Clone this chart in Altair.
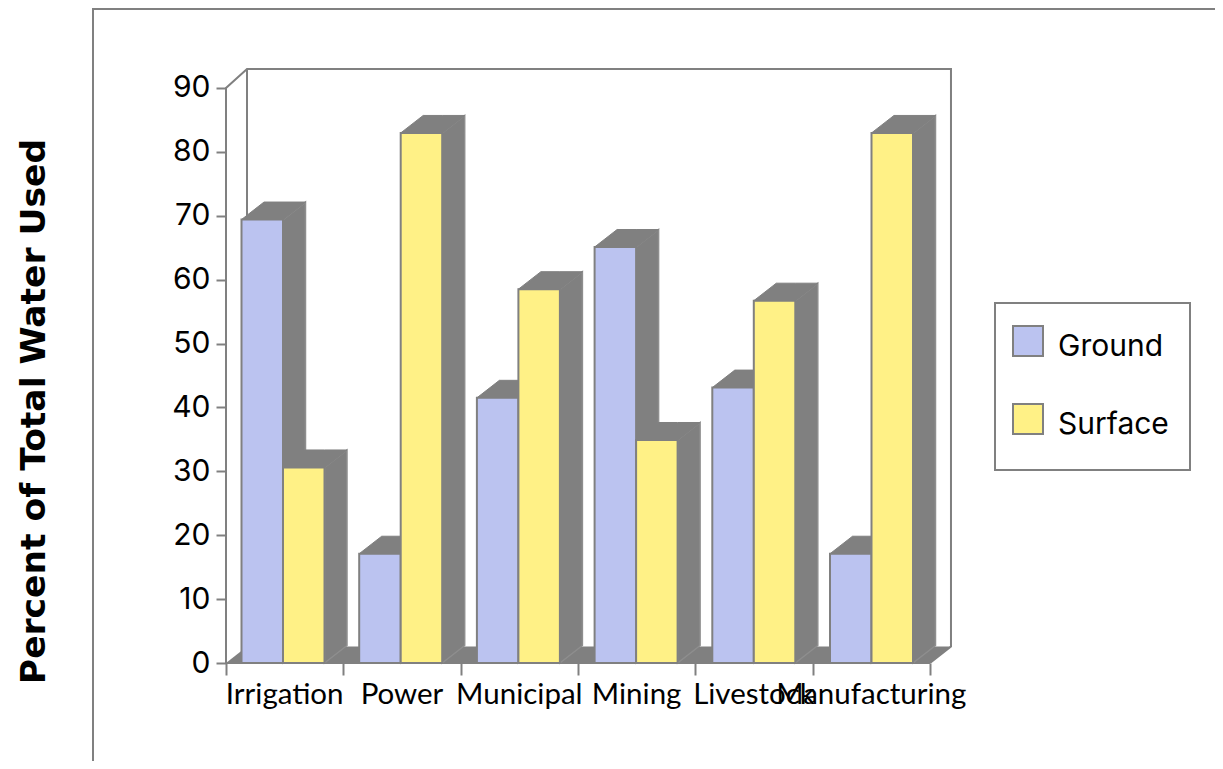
import altair as alt
import pandas as pd

categories = ["Irrigation", "Power", "Municipal", "Mining", "Livestock", "Manufacturing"]
ground = [69.4, 17.1, 41.5, 65.1, 43.1, 17.1]
surface = [30.6, 82.95, 58.5, 34.9, 56.7, 82.95]
y_ticks = [0, 10, 20, 30, 40, 50, 60, 70, 80, 90]
x_ticks = [0, 1, 2, 3, 4, 5, 6]
series_names = ["Ground", "Surface"]
series_colors = ["#BBC3F0", "#FFF186"]
axis_title = "Percent of Total Water Used"

GRAY = "#808080"
W, H = 1207, 753
PX_X, PX_Y = 117.33, 6.39      # pixels per unit
X0, Y0 = 226, 663              # page pixel of the data origin
DX, DY = 21 / PX_X, 16.5 / PX_Y
WALL_TOP = 19 / PX_Y
BAR_DX, BAR_DY = 22.5 / PX_X, 17.5 / PX_Y
BAR_START, BAR_W, BAR_STEP = 15.5 / PX_X, 41.5 / PX_X, 117.7 / PX_X

xs = alt.Scale(domain=[(8 - X0) / PX_X, (8 + W - X0) / PX_X], nice=False, zero=False)
ys = alt.Scale(domain=[(Y0 - 8 - H) / PX_Y, (Y0 - 8) / PX_Y], nice=False, zero=False)
x_axis = alt.Axis(values=x_ticks, labels=False, title=None, domain=False, grid=False,
                  tickColor=GRAY, tickWidth=2, tickSize=12, offset=-(H + 8 - Y0))
y_axis = alt.Axis(values=y_ticks, title=axis_title, domain=False, grid=False,
                  tickColor=GRAY, tickWidth=2, tickSize=10, offset=-(X0 - 8),
                  labelFont="Inter", labelFontSize=30, labelColor="black", labelPadding=6,
                  titleFont="DejaVu Sans", titleFontWeight="bold", titleFontSize=34.5,
                  titleColor="black", titleAngle=270, titleAlign="center",
                  titleBaseline="alphabetic", titleX=44 - X0, titleY=411 - 8)
X = alt.X("x:Q", scale=xs, axis=x_axis)
Y = alt.Y("y:Q", scale=ys, axis=y_axis)

bars, sides, tops = [], [], []
for i, c in enumerate(categories):
    for j, (name, v) in enumerate(zip(series_names, (ground[i], surface[i]))):
        a = i * BAR_STEP + BAR_START + j * BAR_W
        b = a + BAR_W
        bars.append(dict(x=a, x2=b, y=v, y2=0, Series=name))
        k = f"{i}-{j}"
        sides += [dict(id=k, x=b, y=0, y2=v), dict(id=k, x=b + BAR_DX, y=BAR_DY, y2=v + BAR_DY)]
        tops += [dict(id=k, x=a, y=v, y2=v), dict(id=k, x=a + BAR_DX, y=v, y2=v + BAR_DY),
                 dict(id=k, x=b, y=v, y2=v + BAR_DY), dict(id=k, x=b + BAR_DX, y=v + BAR_DY, y2=v + BAR_DY)]

floor = pd.DataFrame([dict(x=0, y=0, y2=0), dict(x=DX, y=0, y2=DY),
                      dict(x=6, y=0, y2=DY), dict(x=6 + DX, y=DY, y2=DY)])
wall_pts = [("l", 0, 0), ("l", 0, 90), ("l", DX, 90 + WALL_TOP), ("l", 6 + DX, 90 + WALL_TOP),
            ("l", 6 + DX, DY), ("l", 6, 0),
            ("b", DX, DY), ("b", DX, 90 + WALL_TOP), ("f", 0, 0), ("f", 6, 0)]
walls = pd.DataFrame([dict(id=a, x=b, y=c, o=n) for n, (a, b, c) in enumerate(wall_pts)])
frame = pd.DataFrame([dict(x=(93 - X0) / PX_X, y=(Y0 - 769) / PX_Y, o=0),
                      dict(x=(93 - X0) / PX_X, y=(Y0 - 9) / PX_Y, o=1),
                      dict(x=(1223 - X0) / PX_X, y=(Y0 - 9) / PX_Y, o=2)])
legend_box = pd.DataFrame([dict(x=(995 - X0) / PX_X, x2=(1190 - X0) / PX_X,
                                y=(Y0 - 303) / PX_Y, y2=(Y0 - 470) / PX_Y)])
cat_labels = pd.DataFrame([dict(x=i + 0.5, y=(Y0 - 704) / PX_Y, label=c) for i, c in enumerate(categories)])

line_base = alt.Chart(walls).mark_line(color=GRAY, strokeWidth=2, strokeJoin="miter").encode(
    x=X, y=Y, detail="id:N", order="o:Q")
frame_l = alt.Chart(frame).mark_line(color=GRAY, strokeWidth=2).encode(x=X, y=Y, order="o:Q")
box = alt.Chart(legend_box).mark_rect(fill="white", stroke=GRAY, strokeWidth=2).encode(
    x=X, x2="x2:Q", y=Y, y2="y2:Q")
floor_l = alt.Chart(floor).mark_area(color=GRAY, orient="vertical").encode(x=X, y=Y, y2="y2:Q")
side_l = alt.Chart(pd.DataFrame(sides)).mark_area(
    fill=GRAY, stroke="#8E8E8E", strokeWidth=1.5, orient="vertical").encode(
    x=X, y=Y, y2="y2:Q", detail="id:N")
top_l = alt.Chart(pd.DataFrame(tops)).mark_area(
    fill=GRAY, stroke=GRAY, strokeWidth=1, orient="vertical").encode(
    x=X, y=Y, y2="y2:Q", detail="id:N")
bar_l = alt.Chart(pd.DataFrame(bars)).mark_rect(stroke=GRAY, strokeWidth=2).encode(
    x=X, x2="x2:Q", y=Y, y2="y2:Q",
    fill=alt.Fill("Series:N", scale=alt.Scale(domain=series_names, range=series_colors),
                  legend=alt.Legend(title=None, orient="none", legendX=1012 - 8, legendY=331 - 8,
                                    padding=0, symbolType="M-1,-1.4H1V0.6H-1Z", symbolSize=900,
                                    symbolStrokeColor=GRAY, symbolStrokeWidth=2, rowPadding=38,
                                    labelFont="Inter", labelFontSize=30, labelColor="black",
                                    labelOffset=14, symbolOpacity=1)))
text_l = alt.Chart(cat_labels).mark_text(font="Lato", fontSize=29.5, color="black",
                                         baseline="alphabetic", align="center").encode(
    x=X, y=Y, text="label:N")

chart = alt.layer(frame_l, box, line_base, floor_l, side_l, top_l, bar_l, text_l).properties(
    width=W, height=H, padding=0, autosize=alt.AutoSizeParams(type="none")
).configure_view(stroke=None)

chart.save("out.html", embed_options={"renderer": "svg", "actions": False})
